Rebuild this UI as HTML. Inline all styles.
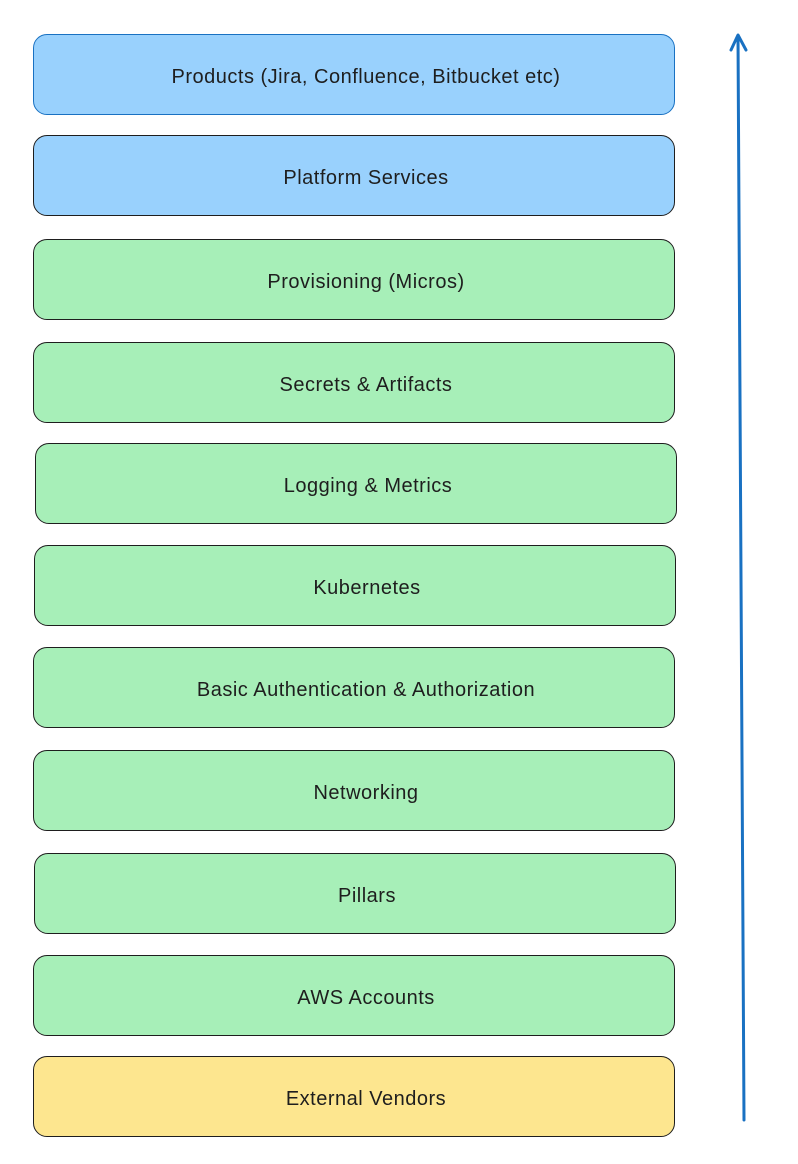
<!DOCTYPE html>
<html><head><meta charset="utf-8"><style>
body{margin:0;width:798px;height:1164px;background:#fff;position:relative;font-family:"Liberation Sans",sans-serif;overflow:hidden}
.b{position:absolute;left:33px;width:642px;height:81px;border:1.5px solid #1e1e1e;border-radius:14px;box-sizing:border-box;display:flex;align-items:center;justify-content:center;font-size:20px;color:#1e1e1e;letter-spacing:0.5px;padding-left:24px;padding-top:6px}
.g{background:#a7efb8}.bl{background:#99d1fd}.y{background:#fde68f}
</style></head><body>
<div class="b bl" style="top:34px;border-color:#1971c2">Products (Jira, Confluence, Bitbucket etc)</div>
<div class="b bl" style="top:135px">Platform Services</div>
<div class="b g" style="top:239px">Provisioning (Micros)</div>
<div class="b g" style="top:342px">Secrets &amp; Artifacts</div>
<div class="b g" style="top:443px;left:35px">Logging &amp; Metrics</div>
<div class="b g" style="top:545px;left:34px">Kubernetes</div>
<div class="b g" style="top:647px">Basic Authentication &amp; Authorization</div>
<div class="b g" style="top:750px">Networking</div>
<div class="b g" style="top:853px;left:34px">Pillars</div>
<div class="b g" style="top:955px">AWS Accounts</div>
<div class="b y" style="top:1056px">External Vendors</div>
<svg width="798" height="1164" style="position:absolute;left:0;top:0">
<path d="M744 1120 L738 36" stroke="#1971c2" stroke-width="3" fill="none" stroke-linecap="round"/>
<path d="M731 50 L738 35 L746 50" stroke="#1971c2" stroke-width="3" fill="none" stroke-linecap="round" stroke-linejoin="round"/>
</svg>
</body></html>
